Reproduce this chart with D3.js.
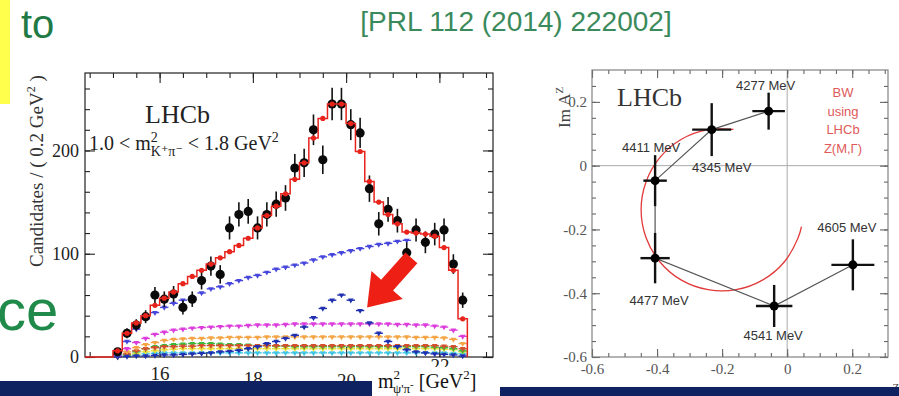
<!DOCTYPE html>
<html>
<head>
<meta charset="utf-8">
<script src="https://cdn.jsdelivr.net/npm/d3@7/dist/d3.min.js"></script>
<style>
html,body{margin:0;padding:0;background:#fff;overflow:hidden}
svg{display:block}
</style>
</head>
<body>
<svg id="slide" width="899" height="396"></svg>
<script>
// ---------- m²(ψ'π⁻) spectrum in 0.2 GeV² bins ----------
const binCenters = [15.1,15.3,15.5,15.7,15.9,16.1,16.3,16.5,16.7,16.9,17.1,17.3,17.5,17.7,17.9,18.1,18.3,18.5,18.7,18.9,
                    19.1,19.3,19.5,19.7,19.9,20.1,20.3,20.5,20.7,20.9,21.1,21.3,21.5,21.7,21.9,22.1,22.3,22.5];
const dataCounts = [5,23,31,39,60,56,61,48,56,74,88,80,125,138,141,125,138,148,154,183,
                    188,220,191,245,245,225,217,163,129,143,132,101,123,111,119,123,90,55];
const fitTotal   = [6,23,33,40,50,57,63,71,78,84,90,96,102,108,115,125,137,146,158,172,
                    188,212,231,245,245,226,199,170,150,138,129,121,120,119,117,106,84,37];
const compUpper  = [2,15,27,37,43,48,52,55,58,62,66,68,71,74,77,79,82,85,87,89,
                    91,94,97,99,101,103,105,107,109,110,112,113,null,null,null,null,null,null];
const compZ4430  = [0,0.5,1,1,1.5,2,2,2.5,3,3.5,4,5,5.5,6.5,8,10,13,15,18,21,
                    29,38,47,55,60,55,45,33,23,15,10,7,5,4,3,2.5,2,1];
const compMagenta= [1,8,14,18,22,24,26,27,28,28.5,29,29.5,30,30,30.5,31,31,31,31.5,32,
                    32,32,32,32,32,32,32,32,32,32,31.5,31.5,31,31,30,29,26,20];
const compOrange = [0.5,5,9,12,14,16,17,17.5,18,18,18.5,18.5,19,19,19,19,19.5,19.5,19.5,19.5,
                    19.5,19.5,19.5,19.5,19.5,19.5,19.5,19.5,19.5,19.5,19.5,19.5,19,19,19,18.5,17,13];
const compBrown  = [0,3,6,8,9,10,10,10.5,10.5,11,11,11,11,11,11,11,11,11,11,11,
                    11,11,11,11,11,11,11,11,11,11,11,11,11,11,11,10.5,10,8];
const compGreen  = [0,2,5,8,10,11,12,12.5,13,13,13,12.5,12,12,11.5,11,11,10.5,10.5,10,
                    10,10,10,10,10,10,10,10,10,10,10,10,10,10,9.5,9,8,6];
const compYellow = [0,1.5,3,5,6,7,7.5,8,8,8,8,8,8,8,8,8,8,8,8,8,
                    8,8,8,8,8,8,8,8,8,8,8,8,8,8,8,7.5,7,5];
const compCyan   = [0,1,2,3,3.5,4,4,4,4,4,4,4,4,4,4,4,4,4,4,4,
                    4,4,4,4,4,4,4,4,4,4,4,4,4,4,4,4,3.5,3];
const histXTicks = [16,18,20,22];
const histYTicks = [0,100,200];
const arrowFrom = [21.4, 96];   // annotation arrow, in (m², candidates)
const arrowTo   = [20.45, 48];

// ---------- Argand diagram of the Z(4430) amplitude ----------
const massLabels = ["4277 MeV","4345 MeV","4411 MeV","4477 MeV","4541 MeV","4605 MeV"];
const reA    = [-0.057,-0.232,-0.406,-0.406,-0.040, 0.202];
const imA    = [ 0.171, 0.113,-0.047,-0.290,-0.440,-0.311];
const reErr  = [ 0.050, 0.060, 0.036, 0.045, 0.056, 0.066];
const imErr  = [ 0.058, 0.083, 0.080, 0.079, 0.066, 0.080];
const bwRe   = [-0.165,-0.243,-0.325,-0.391,-0.434,-0.449,-0.434,-0.391,-0.325,-0.243,-0.157,-0.076,-0.009, 0.034, 0.044];
const bwIm   = [ 0.114, 0.113, 0.083, 0.026,-0.051,-0.138,-0.225,-0.302,-0.359,-0.389,-0.389,-0.359,-0.302,-0.225,-0.191];
const argTicks = [-0.6,-0.4,-0.2,0,0.2];

const SERIF = "'Liberation Serif','DejaVu Serif',serif";
const SANS  = "'Liberation Sans',Arial,sans-serif";

const svg = d3.select("#slide");
svg.append("rect").attr("width",899).attr("height",396).attr("fill","#fff");

// ---------- slide decorations ----------
svg.append("rect").attr("x",0).attr("y",0).attr("width",10).attr("height",104).attr("fill","#ffff4c");
svg.append("text").attr("x",21).attr("y",38).attr("font-family",SANS).attr("font-size",40)
   .attr("fill","#1f7a45").text("to");
svg.append("text").attr("x",516).attr("y",31).attr("text-anchor","middle").attr("font-family",SANS)
   .attr("font-size",28).attr("fill","#3b8a5c").text("[PRL 112 (2014) 222002]");
svg.append("text").attr("x",-3).attr("y",330).attr("font-family",SANS).attr("font-size",58)
   .attr("fill","#1f8a4a").text("ce");

// ================= left: histogram =================
const xH = d3.scaleLinear().domain([14.4, 23.15]).range([85, 493]);
const yH = d3.scaleLinear().domain([0, 275]).range([357, 73]);
const gH = svg.append("g");

function finishAxis(g, col){
  g.select(".domain").remove();
  g.selectAll("line").attr("stroke", col).attr("stroke-width", 1.1);
}
const histXMinor = d3.range(14.5, 23.1, 0.5);
const histYMinor = d3.range(0, 275, 20);
const hInk = "#222";

gH.append("g").attr("transform","translate(0,357)")
  .call(d3.axisBottom(xH).tickValues(histXMinor).tickSize(-5).tickFormat(""))
  .call(g=>finishAxis(g,hInk));
gH.append("g").attr("transform","translate(0,73)")
  .call(d3.axisTop(xH).tickValues(histXMinor).tickSize(-5).tickFormat(""))
  .call(g=>finishAxis(g,hInk));
gH.append("g").attr("transform","translate(0,73)")
  .call(d3.axisTop(xH).tickValues(histXTicks).tickSize(-10).tickFormat(""))
  .call(g=>finishAxis(g,hInk));
gH.append("g").attr("transform","translate(85,0)")
  .call(d3.axisLeft(yH).tickValues(histYMinor).tickSize(-5).tickFormat(""))
  .call(g=>finishAxis(g,hInk));
gH.append("g").attr("transform","translate(493,0)")
  .call(d3.axisRight(yH).tickValues(histYMinor).tickSize(-5).tickFormat(""))
  .call(g=>finishAxis(g,hInk));
gH.append("g").attr("transform","translate(493,0)")
  .call(d3.axisRight(yH).tickValues(histYTicks).tickSize(-10).tickFormat(""))
  .call(g=>finishAxis(g,hInk));
const hLeft = gH.append("g").attr("transform","translate(85,0)")
  .call(d3.axisLeft(yH).tickValues(histYTicks).tickSize(-10).tickPadding(6).tickFormat(d3.format("d")));
finishAxis(hLeft,hInk);
hLeft.selectAll("text").attr("font-family",SERIF).attr("font-size",18).attr("fill",hInk);
const hBottom = gH.append("g").attr("transform","translate(0,357)")
  .call(d3.axisBottom(xH).tickValues(histXTicks).tickSize(-10).tickPadding(10).tickFormat(d3.format("d")));
finishAxis(hBottom,hInk);
// the printed labels sit at slightly uneven heights on the scanned axis
const labelDrop = {16: 10, 18: 15, 20: 17, 22: 1};
hBottom.selectAll("text").attr("font-family",SERIF).attr("font-size",19).attr("fill",hInk)
  .attr("y", d=>labelDrop[d]);

gH.append("rect").attr("x",85).attr("y",73).attr("width",408).attr("height",284)
  .attr("fill","none").attr("stroke",hInk).attr("stroke-width",1.2);

// fit components: per-bin horizontal bars with a small marker
const components = [
  {v: compCyan,    c: "#3fc6e6"},
  {v: compYellow,  c: "#e6de3a"},
  {v: compGreen,   c: "#3cb83c"},
  {v: compBrown,   c: "#d2502e"},
  {v: compOrange,  c: "#f4a444"},
  {v: compMagenta, c: "#dc3cdc"},
  {v: compZ4430,   c: "#1f2fb0"},
  {v: compUpper,   c: "#4646dc"}
];
const halfBin = 0.09;
const tri = d3.symbol().type(d3.symbolTriangle).size(14);
components.forEach(comp=>{
  const pts = binCenters.map((x,i)=>({x, y: comp.v[i]})).filter(p=>p.y!==null);
  const g = gH.append("g");
  g.selectAll("line").data(pts).join("line")
    .attr("x1",d=>xH(d.x-halfBin)).attr("x2",d=>xH(d.x+halfBin))
    .attr("y1",d=>yH(d.y)).attr("y2",d=>yH(d.y))
    .attr("stroke",comp.c).attr("stroke-width",1.4);
  g.selectAll("path").data(pts).join("path")
    .attr("d",tri).attr("fill",comp.c)
    .attr("transform",d=>`translate(${xH(d.x)},${yH(d.y)}) rotate(180)`);
});

// data points with Poisson errors
const dataPts = binCenters.map((x,i)=>({x, y: dataCounts[i]}));
gH.append("g").selectAll("line").data(dataPts).join("line")
  .attr("x1",d=>xH(d.x)).attr("x2",d=>xH(d.x))
  .attr("y1",d=>yH(d.y+Math.sqrt(d.y))).attr("y2",d=>yH(Math.max(0,d.y-Math.sqrt(d.y))))
  .attr("stroke","#111").attr("stroke-width",1.6);
gH.append("g").selectAll("circle").data(dataPts).join("circle")
  .attr("cx",d=>xH(d.x)).attr("cy",d=>yH(d.y)).attr("r",4.6).attr("fill","#0a0a0a");

// total fit: step histogram
const lowEdge = binCenters.map(c=>c-0.1);
const stepPts = [[xH.domain()[0],0]].concat(lowEdge.map((e,i)=>[e,fitTotal[i]]))
  .concat([[binCenters[binCenters.length-1]+0.1,0]]);
gH.append("path").datum(stepPts)
  .attr("d",d3.line().x(d=>xH(d[0])).y(d=>yH(d[1])).curve(d3.curveStepAfter))
  .attr("fill","none").attr("stroke","#e8231c").attr("stroke-width",1.5);
gH.append("g").selectAll("circle").data(binCenters.map((x,i)=>({x,y:fitTotal[i]}))).join("circle")
  .attr("cx",d=>xH(d.x)).attr("cy",d=>yH(d.y)).attr("r",2.6).attr("fill","#e8231c");

// labels inside the frame
gH.append("text").attr("x",145).attr("y",123).attr("font-family",SERIF).attr("font-size",26)
  .attr("fill","#222").text("LHCb");
const cut = gH.append("text").attr("x",89).attr("y",150).attr("font-family",SERIF)
  .attr("font-size",20).attr("fill","#222");
cut.append("tspan").text("1.0 < m");
cut.append("tspan").attr("font-size",14).attr("dy",-8).text("2");
cut.append("tspan").attr("font-size",14).attr("dx",-7).attr("dy",14).text("K⁺π⁻");
cut.append("tspan").attr("dy",-6).text(" < 1.8 GeV");
cut.append("tspan").attr("font-size",14).attr("dy",-8).text("2");

// y title
svg.append("text").attr("transform","translate(43,267) rotate(-90)")
  .attr("font-family",SERIF).attr("font-size",19).attr("fill","#333")
  .call(t=>{
    t.append("tspan").text("Candidates / ( 0.2 GeV");
    t.append("tspan").attr("font-size",12).attr("dy",-8).text("2");
    t.append("tspan").attr("dy",8).text(" )");
  });

// annotation arrow
(function(){
  const p0=[xH(arrowFrom[0]),yH(arrowFrom[1])], p1=[xH(arrowTo[0]),yH(arrowTo[1])];
  const dx=p1[0]-p0[0], dy=p1[1]-p0[1], L=Math.hypot(dx,dy);
  const u=[dx/L,dy/L], n=[-u[1],u[0]];
  const hl=30, hw=21, sw=8;
  const b=[p1[0]-u[0]*hl, p1[1]-u[1]*hl];
  const P=(p,k)=>[p[0]+n[0]*k, p[1]+n[1]*k];
  const poly=[P(p0,sw),P(b,sw),P(b,hw),p1,P(b,-hw),P(b,-sw),P(p0,-sw)];
  gH.append("path").attr("d","M"+poly.map(p=>p.join(",")).join("L")+"Z").attr("fill","#ee1f14");
})();

// ================= right: Argand diagram =================
const xA = d3.scaleLinear().domain([-0.6, 0.31]).range([592, 888]);
const yA = d3.scaleLinear().domain([-0.6, 0.3]).range([357, 70]);
const gA = svg.append("g");
const aInk = "#666";
const argMinorX = d3.range(-0.6, 0.31, 0.05);
const argMinorY = d3.range(-0.6, 0.3, 0.05);

gA.append("line").attr("x1",xA(-0.6)).attr("x2",xA(0.31)).attr("y1",yA(0)).attr("y2",yA(0))
  .attr("stroke","#aaa").attr("stroke-width",1);
gA.append("line").attr("x1",xA(0)).attr("x2",xA(0)).attr("y1",yA(-0.6)).attr("y2",yA(0.3))
  .attr("stroke","#aaa").attr("stroke-width",1);

[[d3.axisBottom(xA),argMinorX,argTicks,"translate(0,357)"],
 [d3.axisTop(xA),argMinorX,argTicks,"translate(0,70)"],
 [d3.axisLeft(yA),argMinorY,argTicks,"translate(592,0)"],
 [d3.axisRight(yA),argMinorY,argTicks,"translate(888,0)"]].forEach(([ax,minor,major,tr])=>{
  gA.append("g").attr("transform",tr).call(ax.tickValues(minor).tickSize(-4).tickFormat(""))
    .call(g=>finishAxis(g,aInk));
  gA.append("g").attr("transform",tr).call(ax.tickValues(major).tickSize(-8).tickFormat(""))
    .call(g=>finishAxis(g,aInk));
});
const fmtA = d=> d===0 ? "0" : d3.format(".1f")(d).replace("−","-");
const aLeft = gA.append("g").attr("transform","translate(592,0)")
  .call(d3.axisLeft(yA).tickValues(argTicks).tickSize(0).tickPadding(5).tickFormat(fmtA));
aLeft.select(".domain").remove();
aLeft.selectAll("text").attr("font-family",SERIF).attr("font-size",15).attr("fill","#555");
const aBottom = gA.append("g").attr("transform","translate(0,357)")
  .call(d3.axisBottom(xA).tickValues(argTicks).tickSize(0).tickPadding(6).tickFormat(fmtA));
aBottom.select(".domain").remove();
aBottom.selectAll("text").attr("font-family",SERIF).attr("font-size",15).attr("fill","#555");

gA.append("rect").attr("x",592).attr("y",70).attr("width",296).attr("height",287)
  .attr("fill","none").attr("stroke","#777").attr("stroke-width",1.1);

// Breit–Wigner expectation
gA.append("path").datum(bwRe.map((r,i)=>[r,bwIm[i]]))
  .attr("d",d3.line().x(d=>xA(d[0])).y(d=>yA(d[1])).curve(d3.curveCatmullRom))
  .attr("fill","none").attr("stroke","#e23a3a").attr("stroke-width",1.3);

// fitted amplitudes
const amp = reA.map((r,i)=>({r, i: imA[i], er: reErr[i], ei: imErr[i], lab: massLabels[i]}));
gA.append("path").datum(amp)
  .attr("d",d3.line().x(d=>xA(d.r)).y(d=>yA(d.i)))
  .attr("fill","none").attr("stroke","#555").attr("stroke-width",1.2);
const pg = gA.append("g");
pg.selectAll(".eh").data(amp).join("line").attr("class","eh")
  .attr("x1",d=>xA(d.r-d.er)).attr("x2",d=>xA(d.r+d.er)).attr("y1",d=>yA(d.i)).attr("y2",d=>yA(d.i))
  .attr("stroke","#111").attr("stroke-width",2.4);
pg.selectAll(".ev").data(amp).join("line").attr("class","ev")
  .attr("x1",d=>xA(d.r)).attr("x2",d=>xA(d.r)).attr("y1",d=>yA(d.i-d.ei)).attr("y2",d=>yA(d.i+d.ei))
  .attr("stroke","#111").attr("stroke-width",2.4);
pg.selectAll("circle").data(amp).join("circle")
  .attr("cx",d=>xA(d.r)).attr("cy",d=>yA(d.i)).attr("r",4.5).attr("fill","#000");

// mass labels (offsets relative to each point)
const labOff = [[-3,-21],[10,42],[-4,-29],[4,47],[-1,34],[-6,-33]];
gA.append("g").selectAll("text").data(amp).join("text")
  .attr("x",(d,k)=>xA(d.r)+labOff[k][0]).attr("y",(d,k)=>yA(d.i)+labOff[k][1])
  .attr("text-anchor","middle").attr("font-family",SANS).attr("font-size",13).attr("fill","#333")
  .text(d=>d.lab);

gA.append("text").attr("x",617).attr("y",106).attr("font-family",SERIF).attr("font-size",26)
  .attr("fill","#333").text("LHCb");
gA.append("text").attr("font-family",SANS).attr("font-size",13).attr("fill","#e05a5a")
  .attr("text-anchor","middle")
  .selectAll("tspan").data(["BW","using","LHCb","Z(M,Γ)"]).join("tspan")
  .attr("x",843).attr("y",(d,k)=>97+k*18.5).text(d=>d);

gA.append("text").attr("transform","translate(570,128) rotate(-90)")
  .attr("font-family",SERIF).attr("font-size",17).attr("fill","#444")
  .call(t=>{
    t.append("tspan").text("Im A");
    t.append("tspan").attr("font-size",11).attr("dy",-7).text("Z");
  });
gA.append("text").attr("x",858).attr("y",398).attr("font-family",SERIF).attr("font-size",17)
  .attr("fill","#444").call(t=>{
    t.append("tspan").text("Re A");
    t.append("tspan").attr("font-size",11).attr("dy",-7).text("Z");
  });

// ---------- footer band and x-axis title ----------
svg.append("rect").attr("x",0).attr("y",381).attr("width",372).attr("height",15).attr("fill","#0e2262");
svg.append("rect").attr("x",500).attr("y",387).attr("width",399).attr("height",9).attr("fill","#0e2262");
svg.append("rect").attr("x",372).attr("y",367).attr("width",128).attr("height",29).attr("fill","#fff");
const xt = svg.append("text").attr("x",378).attr("y",388).attr("font-family",SERIF)
  .attr("font-size",20).attr("fill","#111");
xt.append("tspan").text("m");
xt.append("tspan").attr("font-size",13).attr("dy",-9).text("2");
xt.append("tspan").attr("font-size",13).attr("dx",-7).attr("dy",14).text("ψ'π");
xt.append("tspan").attr("font-size",11).attr("dy",-5).text("-");
xt.append("tspan").attr("dy",0).text(" [GeV");
xt.append("tspan").attr("font-size",13).attr("dy",-9).text("2");
xt.append("tspan").attr("dy",9).text("]");
</script>
</body>
</html>
